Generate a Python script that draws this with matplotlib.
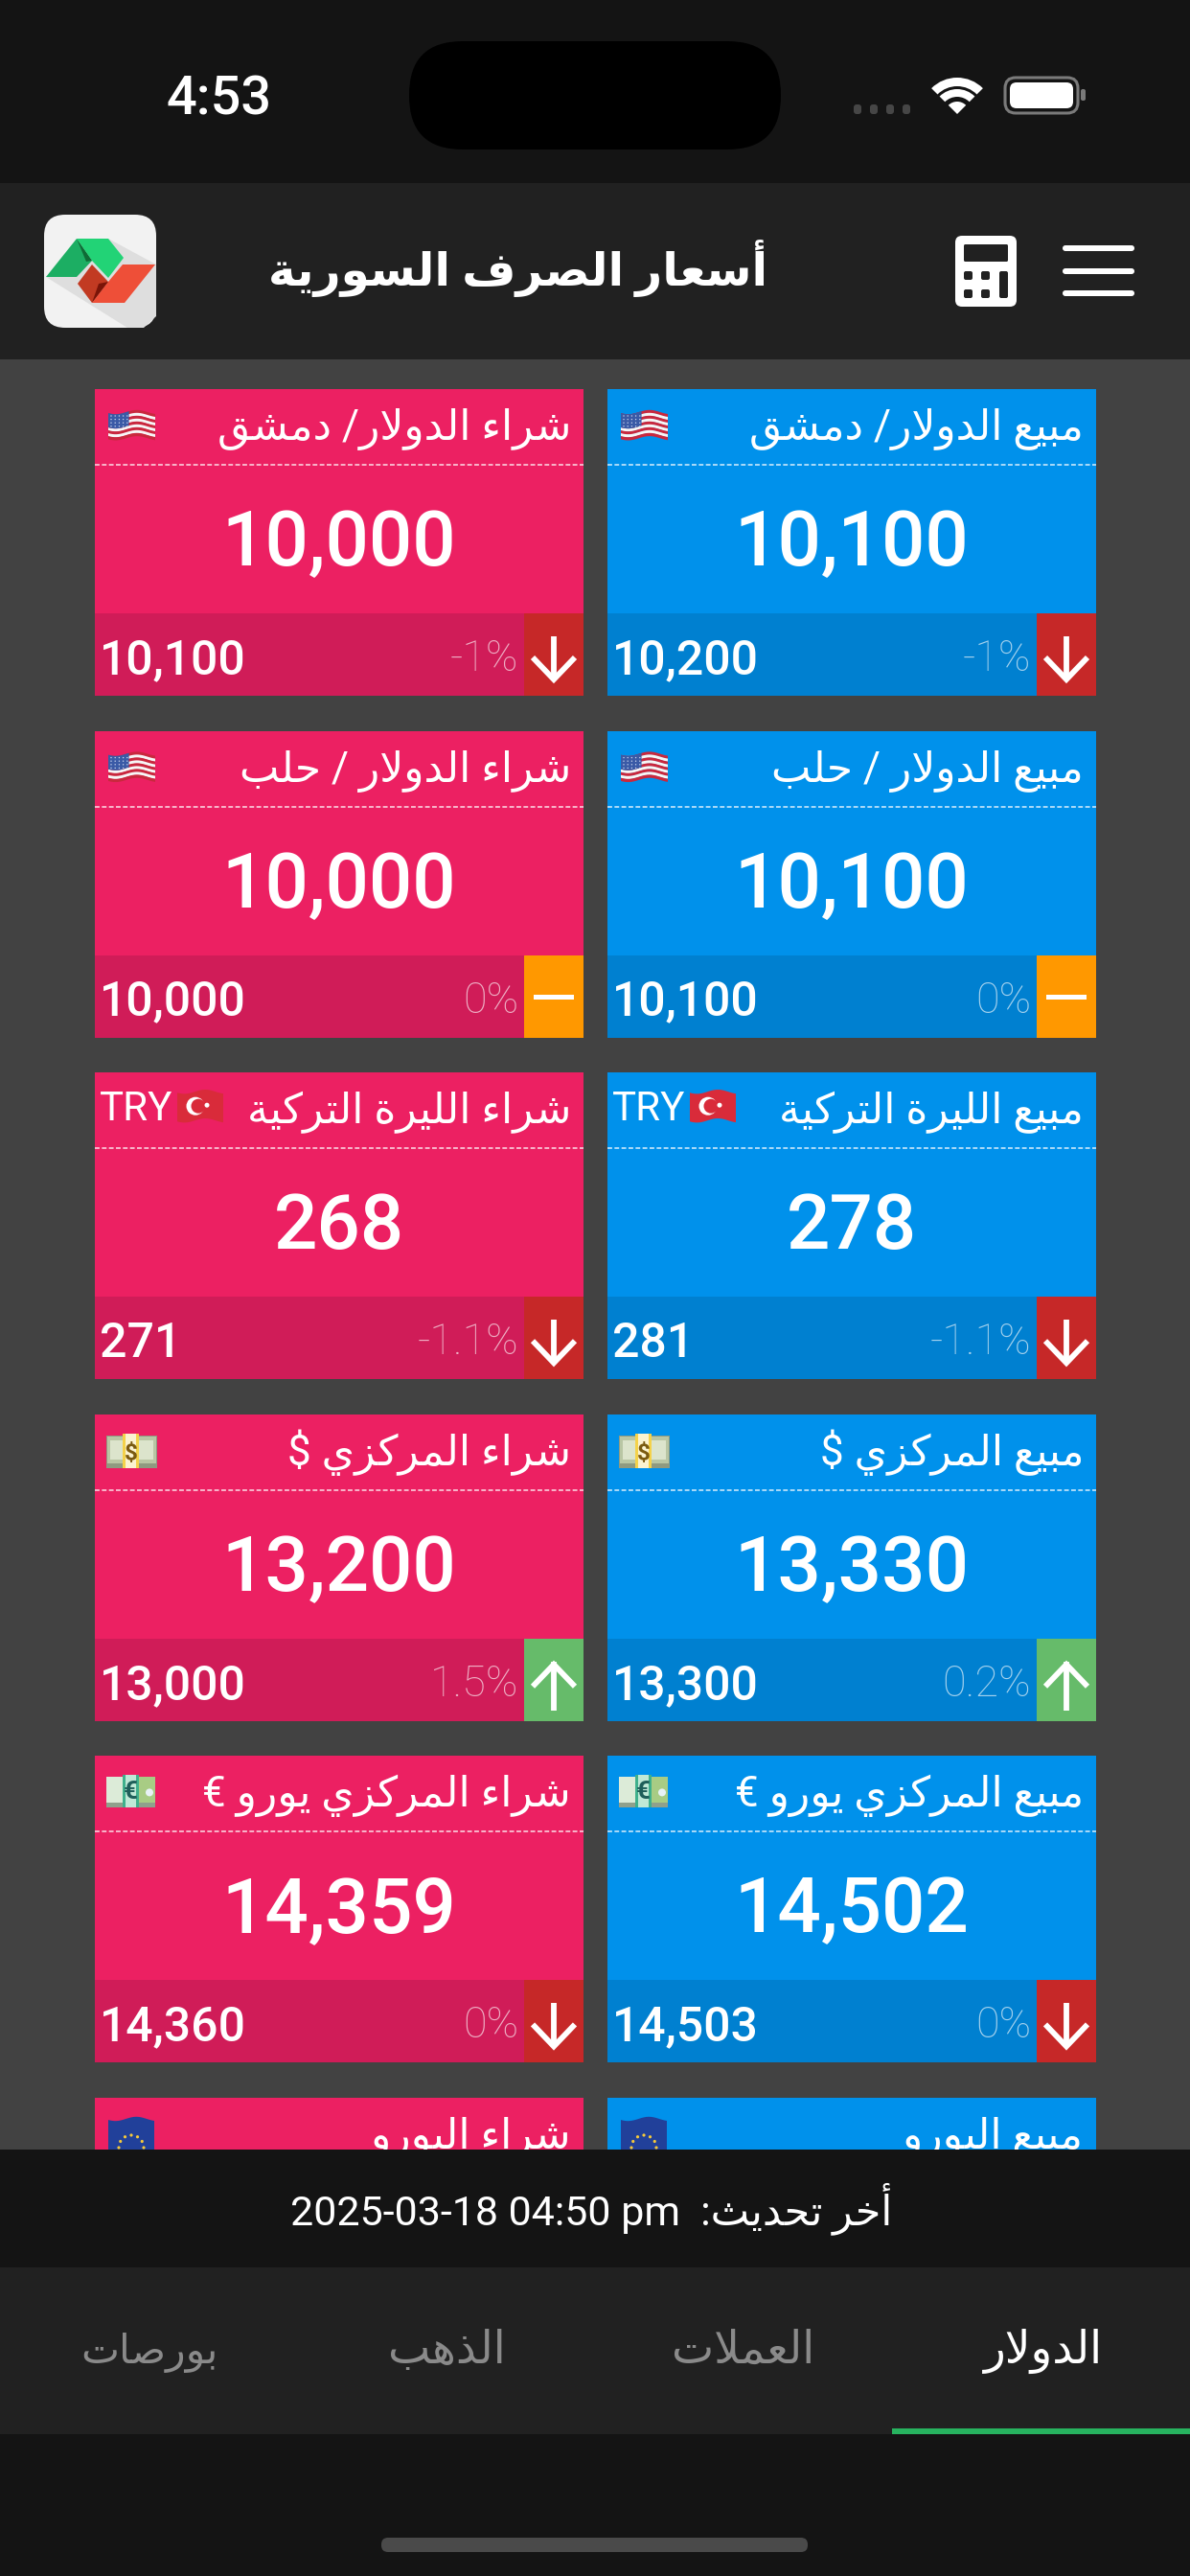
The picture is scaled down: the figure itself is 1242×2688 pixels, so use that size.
import re
import matplotlib
matplotlib.use("Agg")
import matplotlib.pyplot as plt
from matplotlib.patches import Rectangle, FancyBboxPatch, Polygon, Wedge, Circle
import numpy as np

# ---------- data ----------
labels_buy = ["شراء الدولار/ دمشق", "شراء الدولار / حلب", "شراء الليرة التركية", "شراء المركزي $", "شراء المركزي يورو €", "شراء اليورو"]
labels_sell = ["مبيع الدولار/ دمشق", "مبيع الدولار / حلب", "مبيع الليرة التركية", "مبيع المركزي $", "مبيع المركزي يورو €", "مبيع اليورو"]
now_buy = ["10,000", "10,000", "268", "13,200", "14,359"]
now_sell = ["10,100", "10,100", "278", "13,330", "14,502"]
prev_buy = ["10,100", "10,000", "271", "13,000", "14,360"]
prev_sell = ["10,200", "10,100", "281", "13,300", "14,503"]
pct_buy = ["-1%", "0%", "-1.1%", "1.5%", "0%"]
pct_sell = ["-1%", "0%", "-1.1%", "0.2%", "0%"]
trend = ["down", "flat", "down", "up", "down"]
flags = ["us", "us", "tr", "usd", "eur", "eu"]
tabs = ["الدولار", "العملات", "الذهب", "بورصات"]
title = "أسعار الصرف السورية"
updated = "أخر تحديث:  2025-03-18 04:50 pm"
clock = "4:53"

# ---------- Arabic shaping (matplotlib has no shaper) ----------
FORMS = {'ء':(0xFE80,1),'آ':(0xFE81,2),'أ':(0xFE83,2),'ؤ':(0xFE85,2),'إ':(0xFE87,2),'ئ':(0xFE89,4),'ا':(0xFE8D,2),
 'ب':(0xFE8F,4),'ة':(0xFE93,2),'ت':(0xFE95,4),'ث':(0xFE99,4),'ج':(0xFE9D,4),'ح':(0xFEA1,4),'خ':(0xFEA5,4),
 'د':(0xFEA9,2),'ذ':(0xFEAB,2),'ر':(0xFEAD,2),'ز':(0xFEAF,2),'س':(0xFEB1,4),'ش':(0xFEB5,4),'ص':(0xFEB9,4),
 'ض':(0xFEBD,4),'ط':(0xFEC1,4),'ظ':(0xFEC5,4),'ع':(0xFEC9,4),'غ':(0xFECD,4),'ف':(0xFED1,4),'ق':(0xFED5,4),
 'ك':(0xFED9,4),'ل':(0xFEDD,4),'م':(0xFEE1,4),'ن':(0xFEE5,4),'ه':(0xFEE9,4),'و':(0xFEED,2),'ى':(0xFEEF,2),'ي':(0xFEF1,4)}
LAM = {'ا':0xFEFB,'أ':0xFEF7,'آ':0xFEF5,'إ':0xFEF9}

def shape(s):
    out, i, prev_joins = [], 0, False
    while i < len(s):
        c = s[i]
        if c not in FORMS:
            out.append(c); prev_joins = False; i += 1; continue
        if c == 'ل' and i + 1 < len(s) and s[i+1] in LAM:
            out.append(chr(LAM[s[i+1]] + (1 if prev_joins else 0)))
            prev_joins = False; i += 2; continue
        start, n = FORMS[c]
        nxt = s[i+1] if i + 1 < len(s) else ''
        next_ok = nxt in FORMS and FORMS[nxt][1] >= 2 and n == 4
        if n == 1: k = 0
        elif n == 2: k = 1 if prev_joins else 0
        else: k = (3 if next_ok else 1) if prev_joins else (2 if next_ok else 0)
        out.append(chr(start + k))
        prev_joins = n == 4
        i += 1
    return ''.join(out)

def visual(s):
    parts = re.split(r'([A-Za-z0-9][A-Za-z0-9 :\-]*[A-Za-z0-9])', s)
    vis = []
    for p in parts:
        vis.append(p if re.match(r'[A-Za-z0-9]', p) else shape(p)[::-1])
    return ''.join(reversed(vis))

# ---------- canvas ----------
W, H = 1242, 2688
fig = plt.figure(figsize=(W/100, H/100), dpi=100, facecolor="#424242")
ax = fig.add_axes([0, 0, 1, 1])
ax.set_xlim(0, W); ax.set_ylim(H, 0); ax.axis("off")
FAM = ["Roboto", "DejaVu Sans"]
PINK, PINK2, BLUE, BLUE2 = "#EC2062", "#D01C58", "#0091EB", "#0080D0"
TREND_COL = {"down": "#C62828", "flat": "#FF9800", "up": "#66BB6A"}

def rect(x0, y0, x1, y1, c, z=1, **k):
    ax.add_patch(Rectangle((x0, y0), x1-x0, y1-y0, fc=c, ec="none", zorder=z, **k))
def rrect(x0, y0, x1, y1, r, c, z=1, ec="none", lw=0):
    ax.add_patch(FancyBboxPatch((x0+r, y0+r), x1-x0-2*r, y1-y0-2*r, boxstyle=f"round,pad={r},rounding_size={r}", fc=c, ec=ec, lw=lw, zorder=z))
def poly(pts, c, z):
    ax.add_patch(Polygon(pts, fc=c, ec="none", zorder=z))
def px(p):  # font px -> pt
    return p * 0.72
def txt(x, y, s, size, c="white", ha="center", w="normal", z=5, alpha=None):
    ax.text(x, y, s, fontsize=px(size), color=c, ha=ha, va="baseline", family=FAM, weight=w,
            zorder=z, alpha=alpha, parse_math=False)

def wave_band(x, w, y0, y1, c, z, x_a=0.0, x_b=1.0, amp=2.2):
    t = np.linspace(x_a, x_b, 24)
    xs = x + w*t
    off = amp*np.sin(2*np.pi*t*1.1 + 0.5)
    upper = np.column_stack([xs, y0 + off])
    lower = np.column_stack([xs, y1 + off])[::-1]
    poly(np.vstack([upper, lower]), c, z)

def draw_flag(kind, x, y):
    if kind == "us":
        w, h, n = 49, 27, 9
        for i in range(n):
            wave_band(x, w, y+i*h/n, y+(i+1)*h/n + .3, "#C9283E" if i % 2 == 0 else "#F6F6F6", 3)
        wave_band(x, w, y, y+h*5/9, "#3A5AA6", 4, 0, .44)
        for i in range(4):
            for j in range(5):
                ax.add_patch(Circle((x+3+j*4.2, y+4+i*3.6), .7, fc="#CBD6EE", ec="none", zorder=5))
    elif kind == "tr":
        wave_band(x, 48, y+1, y+31, "#D92B3A", 3)
        ax.add_patch(Circle((x+19, y+16), 9.5, fc="white", ec="none", zorder=4))
        ax.add_patch(Circle((x+22, y+16), 7.5, fc="#D92B3A", ec="none", zorder=4))
        ax.add_patch(Circle((x+31, y+15), 2.5, fc="white", ec="none", zorder=4))
    elif kind == "usd":
        rect(x, y+2, x+53, y+36, "#8F9A80", 3)
        rect(x+1, y+3, x+52, y+31, "#B9C6A4", 3)
        rect(x+4, y+7, x+49, y+27, "#DCE4CC", 3)
        rect(x+17, y, x+34, y+36, "#F4D24A", 4)
        rect(x+20, y, x+31, y+36, "#FBF3D0", 4)
        txt(x+25.5, y+27, "$", 24, c="#7A5A10", z=5, w="bold")
    elif kind == "eur":
        rect(x, y+2, x+51, y+34, "#8FA08C", 3)
        rect(x, y+2, x+17, y+29, "#DCEBD8", 3)
        rect(x+34, y+2, x+51, y+29, "#A8CC84", 3)
        ax.add_patch(Circle((x+45, y+18), 4, fc="#E8F2F6", ec="none", zorder=4))
        rect(x+17, y, x+34, y+34, "#3FB08C", 4)
        rect(x+20, y, x+31, y+34, "#BFE8D6", 4)
        txt(x+25.5, y+25, "€", 26, c="#1F5F5A", z=5, w="bold")
    else:
        wave_band(x, 48, y, y+60, "#21409A", 3)
        for a in np.linspace(0, 2*np.pi, 12, endpoint=False):
            ax.add_patch(Circle((x+24+13*np.cos(a), y+30+13*np.sin(a)), 1.6, fc="#F5C93A", ec="none", zorder=4))

def draw_arrow(kind, cx, top):
    if kind == "flat":
        rect(cx-21, top+41, cx+21, top+46, "white", 4); return
    y0, y1 = top+24, top+72
    tip, tail, sgn = (y1, y0, -1) if kind == "down" else (y0, y1, 1)
    ax.plot([cx, cx], [y0, y1-3*(sgn < 0)+3*(sgn > 0)], color="white", lw=4.2, solid_capstyle="butt", zorder=4)
    ax.plot([cx-22, cx, cx+22], [tip+sgn*26, tip+sgn*3, tip+sgn*26], color="white", lw=4.2,
            solid_joinstyle="miter", solid_capstyle="butt", zorder=4)

def draw_card(x0, top, label, now, prev, pct, tr, fl, c1, c2):
    x1 = x0 + 510
    rect(x0, top, x1, top+320, c1, 2)
    ax.plot([x0, x1], [top+79, top+79], color="white", lw=1.1, ls=(0, (3.2, 1.6)), alpha=.85, zorder=3)
    rect(x0, top+234, x1, top+320, c2, 3)
    txt(x1-13, top+53, visual(label), 44, ha="right")
    if fl == "tr":
        txt(x0+5, top+50, "TRY", 42, ha="left")
        draw_flag("tr", x0+86, top+19)
    elif fl == "eu":
        draw_flag("eu", x0+14, top+22)
    elif fl == "us":
        draw_flag("us", x0+14, top+24)
    else:
        draw_flag(fl, x0+12, top+20)
    if now is None:
        return
    txt((x0+x1)/2, top+184, now, 80, w="medium")
    txt(x0+5, top+297, prev, 50, ha="left", w="medium")
    rect(x1-62, top+234, x1, top+320, TREND_COL[tr], 4)
    txt(x1-68, top+294, pct, 45, ha="right", w="light", alpha=.65)
    draw_arrow(tr, x1-31, top+234)

ROW_TOP, ROW_STEP = 406, 356.6
for i in range(6):
    top = ROW_TOP + i*ROW_STEP
    get = lambda a: a[i] if i < len(a) else None
    draw_card(99, top, labels_buy[i], get(now_buy), get(prev_buy), get(pct_buy), get(trend), flags[i], PINK, PINK2)
    draw_card(634, top, labels_sell[i], get(now_sell), get(prev_sell), get(pct_sell), get(trend), flags[i], BLUE, BLUE2)

# ---------- chrome ----------
Z = 10
rect(0, 0, W, 191, "#141414", Z)
rect(0, 191, W, 375, "#212121", Z)
rrect(427, 43, 815, 156, 56, "black", Z+1)
txt(229, 119, clock, 56, w="medium", z=Z+2)
for x in (895, 912, 929, 946):
    rrect(x-4, 109, x+4, 119, 3, "#464646", Z+1)
# wifi
for r, wd in ((38, 9), (26, 8), (13, 13)):
    ax.add_patch(Wedge((999, 119), r, 225, 315, width=wd, fc="white", ec="none", zorder=Z+1))
# battery
rrect(1049, 81, 1125, 118, 11, "none", Z+1, ec="#7a7a7a", lw=2.2)
rrect(1054, 86, 1120, 113, 7, "white", Z+1)
rrect(1128, 93, 1133, 105, 2, "#7a7a7a", Z+1)

# logo
rrect(46, 224, 163, 342, 22, "#F2F2F2", Z+1)
poly([[113, 249], [163, 276], [163, 330], [150, 342], [133, 342], [48, 289]], "#DEDEDE", Z+1)
poly([[48, 289], [80, 249], [96, 272], [80, 289]], "#1CAE63", Z+2)
poly([[80, 249], [96, 272], [90, 273]], "#0F6B36", Z+3)
poly([[80, 249], [113, 249], [129, 269], [113, 290], [96, 272]], "#22D376", Z+2)
poly([[96, 276], [113, 294], [96, 316], [81, 296]], "#C23A22", Z+2)
poly([[113, 294], [96, 316], [103, 296]], "#7A1408", Z+3)
poly([[96, 316], [113, 294], [128, 276], [162, 276], [130, 316]], "#EE4F38", Z+2)

txt(541, 298, visual(title), 48.5, w="bold", z=Z+2)

# calculator
rrect(997, 246, 1061, 320, 7, "white", Z+1)
rrect(1006, 255, 1052, 273, 1.5, "#212121", Z+2)
for gx in (1006, 1024):
    for gy in (283, 302):
        rrect(gx, gy, gx+9, gy+9, 2, "#212121", Z+2)
rrect(1043, 283, 1052, 311, 2, "#212121", Z+2)
# hamburger
for y in (259, 283, 306):
    rrect(1109, y-3, 1184, y+3, 3, "white", Z+1)

# bottom
rect(0, 2243, W, 2366, "#141414", Z)
rect(0, 2366, W, 2540, "#212121", Z)
rect(0, 2540, W, H, "#141414", Z)
rect(931, 2534, W, 2540, "#27B35F", Z+1)
txt(617, 2321, visual(updated), 43, z=Z+2)
TAB_X = [1089, 776, 466, 156]
TAB_SIZE = [47, 47, 47, 42.5]
for i, (t, x, s) in enumerate(zip(tabs, TAB_X, TAB_SIZE)):
    txt(x, 2466, visual(t), s, c="white" if i == 0 else "#8A8A8A", z=Z+2)
rrect(398, 2648, 843, 2663, 7, "#4A4A4A", Z+1)

fig.savefig("out.png", dpi=100, facecolor=fig.get_facecolor())
